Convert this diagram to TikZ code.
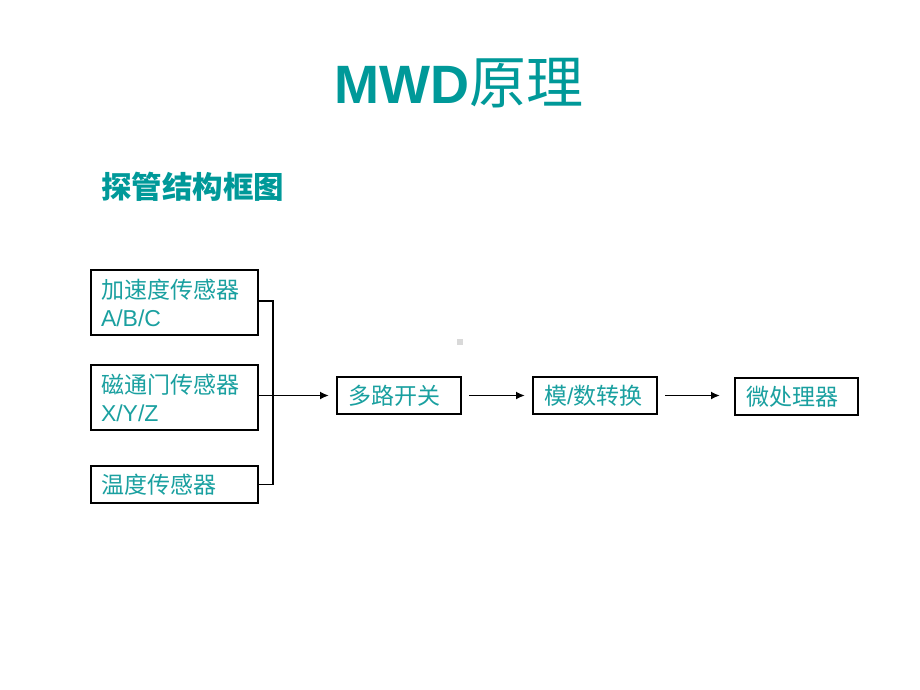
\documentclass[tikz,border=0pt]{standalone}
\usepackage{fontspec}
\setmainfont{Liberation Sans}
\newfontfamily\cjk{Noto Sans CJK SC}
\usetikzlibrary{arrows.meta}
\definecolor{teal1}{RGB}{0,153,153}
\definecolor{teal2}{RGB}{26,160,160}
\begin{document}
\begin{tikzpicture}[x=1pt,y=-1pt,
  box/.style={draw=black,line width=2pt,fill=white,inner xsep=10pt,inner ysep=0pt,
    text=teal2,font=\fontsize{23}{28}\selectfont,align=left,anchor=center},
  conn/.style={line width=1.8pt,draw=black},
  arr/.style={conn,-{Latex[length=9pt,width=8pt]}}]
\useasboundingbox[fill=white] (0,0) rectangle (920,690);
\node[font=\fontsize{54}{60}\selectfont\bfseries,text=teal1,inner sep=0pt,anchor=base west] (title) at (334,104) {MWD{\cjk\mdseries\fontsize{57}{60}\selectfont 原理}};
\node[font=\cjk\fontsize{30.5}{34}\selectfont\bfseries,text=teal1,anchor=west,inner sep=0pt] (sub) at (101,187) {探管结构框图};
\node[box,minimum width=167pt,minimum height=65pt,text width=147pt] (b1) at (174.5,302.5) {{\cjk 加速度传感器}\\A/B/C};
\node[box,minimum width=167pt,minimum height=65pt,text width=147pt] (b2) at (174.5,397.5) {{\cjk 磁通门传感器}\\X/Y/Z};
\node[box,minimum width=167pt,minimum height=37pt,text width=147pt] (b3) at (174.5,484.5) {{\cjk 温度传感器}};
\node[box,minimum width=124pt,minimum height=37pt,text width=102pt,inner xsep=11pt] (mux) at (399,395.5) {{\cjk 多路开关}};
\node[box,minimum width=124pt,minimum height=37pt,text width=102pt,inner xsep=11pt] (adc) at (595,395.5) {{\cjk 模}/{\cjk 数转换}};
\node[box,minimum width=123pt,minimum height=37pt,text width=101pt,inner xsep=11pt] (cpu) at (796.5,396.5) {{\cjk 微处理器}};
\coordinate (jt) at (273,301);
\draw[conn] (b1.east |- jt) -- (jt) |- (b3.east);
\draw[arr,shorten >=7pt] (b2.east |- mux.west) -- (mux.west);
\draw[arr,shorten <=7pt,shorten >=7pt] (mux.east) -- (adc.west);
\draw[arr,shorten <=7pt,shorten >=14pt] (adc.east) -- (cpu.west |- adc.east);
\fill[black!15] (457,339) rectangle (463,345);
\end{tikzpicture}
\end{document}
